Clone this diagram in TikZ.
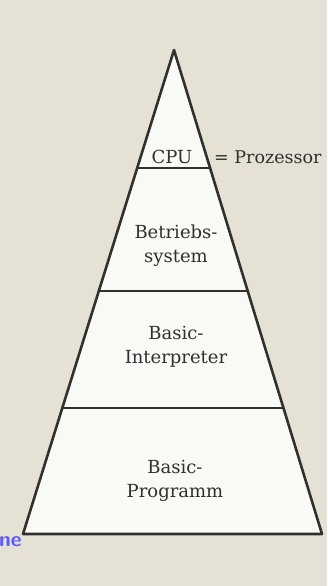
\documentclass[tikz,border=0pt]{standalone}
\usepackage{fontspec}
\setmainfont{DejaVu Serif}
\usepackage{tikz}
\usetikzlibrary{calc,positioning}
\definecolor{paper}{RGB}{229,225,213}
\definecolor{inner}{RGB}{249,249,246}
\definecolor{ink}{RGB}{48,48,46}
\tikzset{
  every picture/.append style={line cap=round,line join=round},
  layer edge/.style={ink,line width=2.6pt},
  layer label/.style={font=\fontsize{18}{24}\selectfont,align=center,text=ink},
  side note/.style={font=\fontsize{17.5}{24}\selectfont,text=ink,anchor=west}
}

\begin{document}
\begin{tikzpicture}[x=1pt,y=-1pt]
\useasboundingbox[fill=paper] (0,0) rectangle (327,586);
\coordinate (apex) at (174,50);
\coordinate (bl) at (23,534);
\coordinate (br) at (322,534);
% layer boundaries
\coordinate (cpuL) at ($(apex)!0.244!(bl)$);
\coordinate (cpuR) at ($(apex)!0.244!(br)$);
\coordinate (osL) at ($(apex)!0.498!(bl)$);
\coordinate (osR) at ($(apex)!0.498!(br)$);
\coordinate (intL) at ($(apex)!0.740!(bl)$);
\coordinate (intR) at ($(apex)!0.740!(br)$);
\fill[inner] (apex) -- (bl) -- (br) -- cycle;
\draw[layer edge] (cpuL) -- (cpuR);
\draw[layer edge] (osL) -- (osR);
\draw[layer edge] (intL) -- (intR);
\draw[layer edge] (apex) -- (bl) -- (br) -- cycle;
\node[layer label] (cpu) at (172,157) {CPU};
\node[side note,inner sep=1pt] (proc) at (213,157) {= Prozessor};
\node[layer label] (os) at (176,246) {Betriebs-\\system};
\node[layer label] (interp) at (176,347) {Basic-\\Interpreter};
\node[layer label] (prog) at (175,481) {Basic-\\Programm};
\node[font=\sffamily\bfseries\fontsize{21}{21}\selectfont,text=blue!65!white,anchor=west,inner sep=0pt] (mark) at (-1,542) {ne};
\end{tikzpicture}
\end{document}
